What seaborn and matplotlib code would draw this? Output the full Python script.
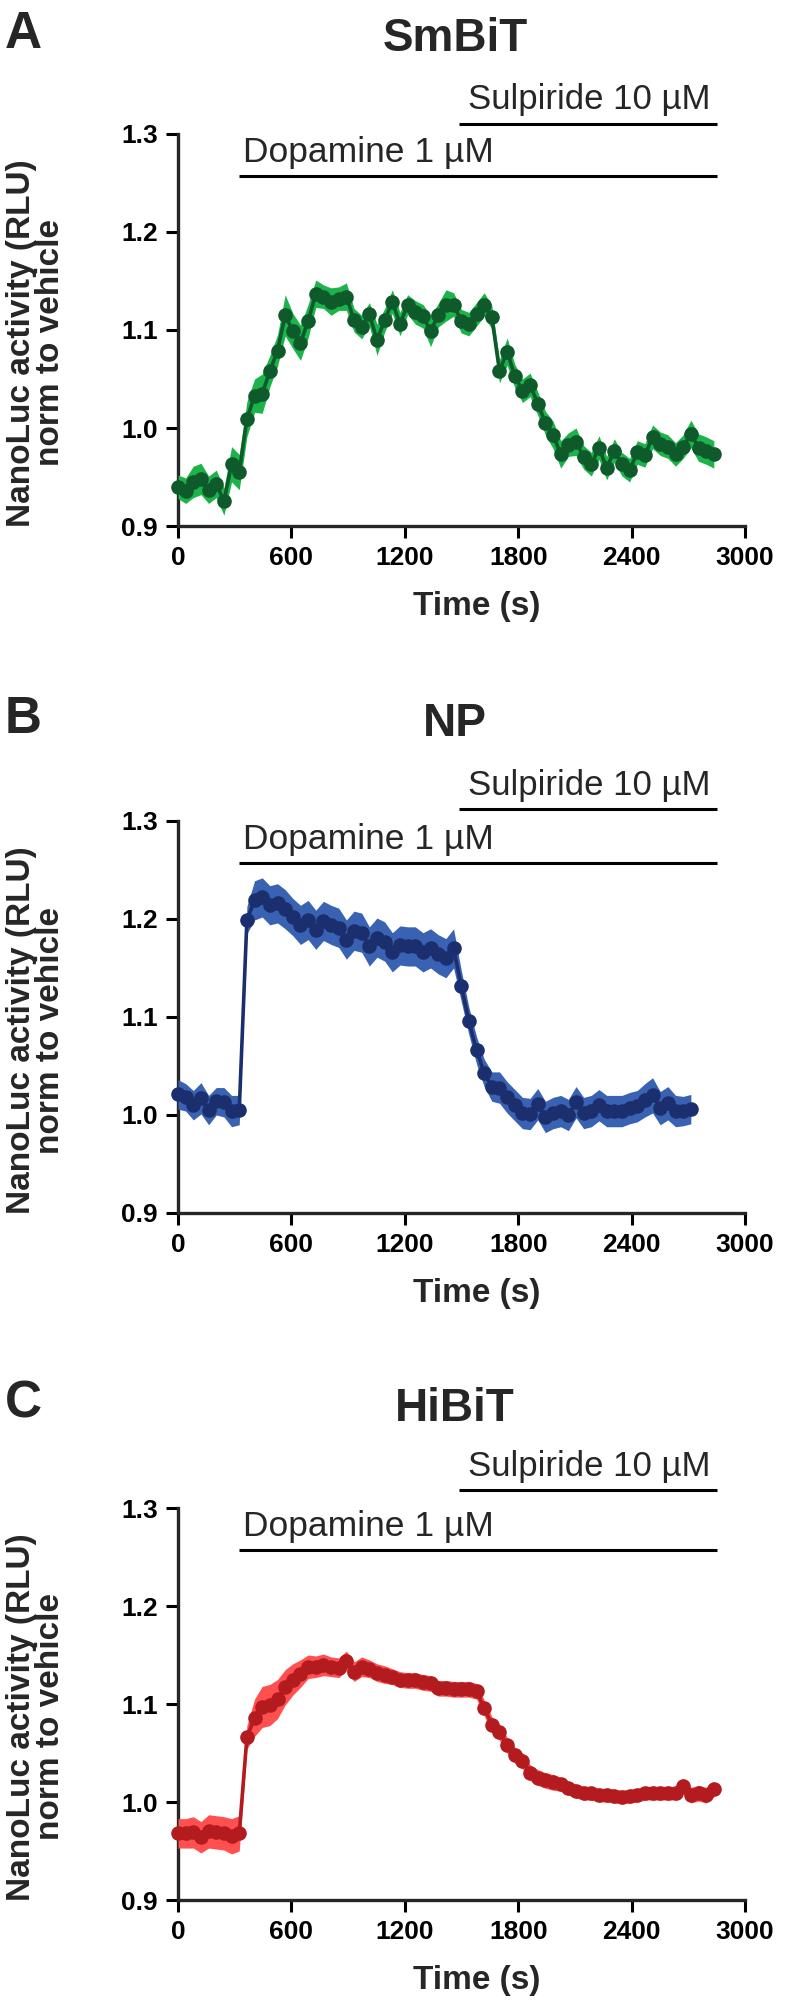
import numpy as np
import matplotlib
matplotlib.use("Agg")
import matplotlib.pyplot as plt
import seaborn as sns

sns.set_style("ticks")
plt.rcParams["font.family"] = ["Liberation Sans", "DejaVu Sans"]

SAMPLE_INTERVAL = 40.5  # s between reads

smbit = [0.940, 0.936, 0.945, 0.948, 0.937, 0.943, 0.925, 0.963, 0.955,
         1.009, 1.033, 1.035, 1.058, 1.079, 1.115, 1.099, 1.087, 1.109,
         1.137, 1.134, 1.129, 1.132, 1.134, 1.110, 1.103, 1.116, 1.090,
         1.110, 1.129, 1.106, 1.126, 1.118, 1.114, 1.099, 1.115, 1.125,
         1.126, 1.109, 1.106, 1.116, 1.126, 1.113, 1.058, 1.078, 1.053,
         1.038, 1.044, 1.025, 1.005, 0.993, 0.973, 0.983, 0.986, 0.970,
         0.963, 0.980, 0.959, 0.977, 0.963, 0.957, 0.975, 0.972, 0.991,
         0.984, 0.981, 0.973, 0.981, 0.994, 0.980, 0.977, 0.973]
smbit_sem = [0.012, 0.013, 0.016, 0.016, 0.014, 0.014, 0.014, 0.018, 0.018,
             0.018, 0.017, 0.020, 0.016, 0.016, 0.021, 0.018, 0.018, 0.017,
             0.014, 0.012, 0.014, 0.012, 0.014, 0.012, 0.012, 0.012, 0.016,
             0.012, 0.012, 0.012, 0.010, 0.012, 0.012, 0.016, 0.012, 0.016,
             0.012, 0.012, 0.012, 0.012, 0.012, 0.012, 0.012, 0.014, 0.012,
             0.012, 0.012, 0.012, 0.012, 0.014, 0.014, 0.012, 0.014, 0.012,
             0.012, 0.012, 0.012, 0.012, 0.012, 0.012, 0.012, 0.012, 0.012,
             0.012, 0.012, 0.012, 0.012, 0.014, 0.014, 0.014, 0.014]

np_vals = [1.021, 1.018, 1.010, 1.017, 1.005, 1.014, 1.013, 1.004, 1.005,
           1.199, 1.219, 1.222, 1.214, 1.216, 1.210, 1.202, 1.194, 1.199,
           1.189, 1.198, 1.194, 1.191, 1.179, 1.188, 1.186, 1.172, 1.181,
           1.177, 1.166, 1.173, 1.172, 1.172, 1.166, 1.170, 1.164, 1.160,
           1.170, 1.132, 1.096, 1.066, 1.043, 1.029, 1.028, 1.018, 1.010,
           1.002, 1.001, 1.011, 0.998, 1.002, 1.004, 1.000, 1.013, 1.002,
           1.004, 1.010, 1.004, 1.004, 1.004, 1.007, 1.009, 1.015, 1.020,
           1.007, 1.012, 1.004, 1.004, 1.006]
np_sem = [0.015, 0.014, 0.015, 0.016, 0.015, 0.014, 0.015, 0.016, 0.015,
          0.014, 0.020, 0.020, 0.020, 0.020, 0.020, 0.019, 0.020, 0.020,
          0.020, 0.020, 0.020, 0.020, 0.020, 0.020, 0.020, 0.020, 0.020,
          0.020, 0.020, 0.020, 0.020, 0.020, 0.020, 0.020, 0.020, 0.020,
          0.020, 0.016, 0.014, 0.014, 0.014, 0.015, 0.016, 0.016, 0.016,
          0.016, 0.016, 0.016, 0.016, 0.016, 0.016, 0.016, 0.016, 0.016,
          0.016, 0.016, 0.016, 0.016, 0.016, 0.016, 0.016, 0.017, 0.018,
          0.017, 0.017, 0.016, 0.015, 0.015]

hibit = [0.968, 0.968, 0.969, 0.964, 0.970, 0.969, 0.968, 0.965, 0.968,
         1.066, 1.086, 1.097, 1.099, 1.105, 1.117, 1.125, 1.131, 1.138,
         1.138, 1.140, 1.138, 1.137, 1.144, 1.133, 1.138, 1.136, 1.132,
         1.130, 1.128, 1.125, 1.124, 1.124, 1.122, 1.121, 1.116, 1.116,
         1.115, 1.115, 1.115, 1.113, 1.096, 1.079, 1.071, 1.058, 1.048,
         1.042, 1.030, 1.025, 1.022, 1.020, 1.018, 1.014, 1.011, 1.009,
         1.009, 1.007, 1.007, 1.006, 1.005, 1.006, 1.007, 1.009, 1.009,
         1.009, 1.009, 1.009, 1.016, 1.007, 1.009, 1.007, 1.013]
hibit_sem = [0.015, 0.015, 0.016, 0.016, 0.017, 0.017, 0.017, 0.018, 0.018,
             0.012, 0.019, 0.021, 0.021, 0.020, 0.018, 0.016, 0.014, 0.012,
             0.011, 0.011, 0.010, 0.010, 0.010, 0.010, 0.010, 0.009, 0.009,
             0.009, 0.008, 0.008, 0.008, 0.008, 0.008, 0.008, 0.008, 0.008,
             0.008, 0.008, 0.008, 0.008, 0.008, 0.008, 0.008, 0.008, 0.008,
             0.008, 0.008, 0.008, 0.008, 0.008, 0.007, 0.007, 0.007, 0.007,
             0.007, 0.007, 0.007, 0.007, 0.007, 0.007, 0.007, 0.007, 0.007,
             0.007, 0.007, 0.007, 0.008, 0.008, 0.008, 0.008, 0.008]

titles = ["SmBiT", "NP", "HiBiT"]
letters = ["A", "B", "C"]
series = [smbit, np_vals, hibit]
sems = [smbit_sem, np_sem, hibit_sem]
band_colors = ["#1cb34a", "#3a62b3", "#ff5050"]
line_colors = ["#0e5a2b", "#1b2f6e", "#b31b1e"]

# treatment bars (s) and their heights in data units
dopa_start, sulp_start, bar_end = 321, 1489, 2852
dopa_y = 1.257
sulp_y = [1.310, 1.312, 1.318]

xticks = [0, 600, 1200, 1800, 2400, 3000]
yticks = [0.9, 1.0, 1.1, 1.2, 1.3]

W, H = 800, 2009
fig = plt.figure(figsize=(W / 100, H / 100), dpi=100)

ax_left, ax_w, ax_h = 178, 567, 392
ax_tops = [134, 821, 1508]
title_base = [51, 736, 1421]

for i in range(3):
    top = ax_tops[i]
    ax = fig.add_axes([ax_left / W, 1 - (top + ax_h) / H, ax_w / W, ax_h / H])
    y = np.array(series[i])
    e = np.array(sems[i])
    t = np.arange(len(y)) * SAMPLE_INTERVAL

    ax.fill_between(t, y - e, y + e, color=band_colors[i], lw=0,
                    clip_on=False, zorder=3)
    sns.lineplot(x=t, y=y, ax=ax, color=line_colors[i], marker="o",
                 markersize=10.5, markeredgewidth=0, linewidth=2.6,
                 clip_on=False, zorder=4)

    ax.set_xlim(0, 3000)
    ax.set_ylim(0.9, 1.3)
    ax.set_xticks(xticks)
    ax.set_yticks(yticks)
    ax.set_yticklabels([f"{v:.1f}" for v in yticks])
    sns.despine(ax=ax)
    for s in ["left", "bottom"]:
        ax.spines[s].set_linewidth(2.4)
    ax.tick_params(direction="out", length=8.5, width=2.2, pad=6,
                   labelsize=19, colors="black")
    for lab in ax.get_xticklabels() + ax.get_yticklabels():
        lab.set_fontweight("bold")
    ax.set_xlabel("")
    ax.set_ylabel("")

    # treatment bars
    ax.plot([dopa_start, bar_end], [dopa_y, dopa_y], color="black", lw=2.2,
            clip_on=False, solid_capstyle="butt")
    ax.plot([sulp_start, bar_end], [sulp_y[i], sulp_y[i]], color="black",
            lw=2.2, clip_on=False, solid_capstyle="butt")
    ax.text(dopa_start + 22, dopa_y + 0.014, "Dopamine 1 µM", ha="left",
            va="baseline", fontsize=25.5)
    ax.text(sulp_start + 45, sulp_y[i] + 0.015, "Sulpiride 10 µM", ha="left",
            va="baseline", fontsize=25)

    ax.text(0.526, -0.205, "Time (s)", transform=ax.transAxes, ha="center",
            va="center", fontsize=24, fontweight="bold")

    # title, panel letter, y label
    fig.text(455 / W, 1 - title_base[i] / H, titles[i], ha="center",
             va="baseline", fontsize=33, fontweight="bold")
    fig.text(5 / W, 1 - (title_base[i] - 3) / H, letters[i], ha="left",
             va="baseline", fontsize=37, fontweight="bold")
    fig.text(36 / W, 1 - (top + 209) / H,
             "NanoLuc activity (RLU)\nnorm to vehicle", rotation=90,
             ha="center", va="center", multialignment="center",
             fontsize=24, fontweight="bold", linespacing=0.95)

fig.savefig("out.png", dpi=100, facecolor="white")
